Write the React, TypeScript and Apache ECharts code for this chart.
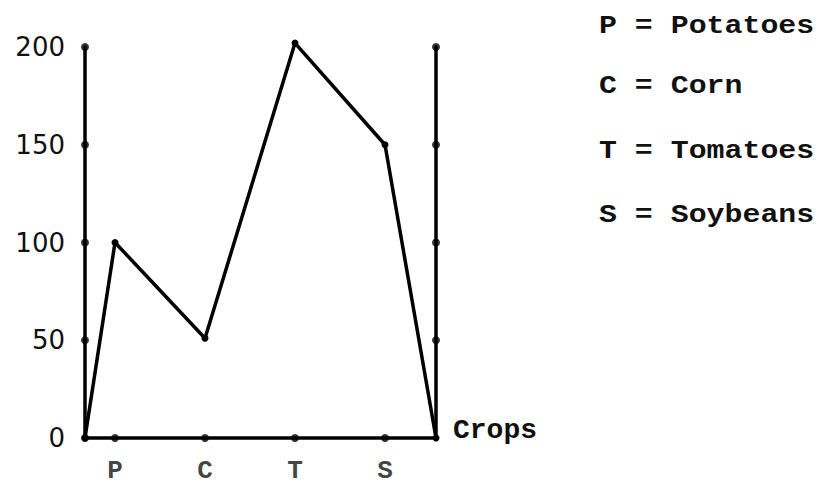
import React, { useEffect, useRef } from "react";
import * as echarts from "echarts";

const cropCodes = ["P", "C", "T", "S"];
const cropX = [1, 4, 7, 10];
const cropValues = [100, 51, 202, 150];
const xMax = 11.7;
const yTicks = [0, 50, 100, 150, 200];
const legendLines = ["P = Potatoes", "C = Corn", "T = Tomatoes", "S = Soybeans"];
const legendY = [26, 86, 151, 215];

const MONO = "'Liberation Mono', 'Courier New', monospace";

export default function App() {
  const ref = useRef<HTMLDivElement>(null);
  useEffect(() => {
    if (!ref.current) return;
    const chart = echarts.init(ref.current, null, { renderer: "svg" });
    const lineData = [[0, 0], ...cropX.map((x, i) => [x, cropValues[i]]), [xMax, 0]];
    const option: any = {
      animation: false,
      backgroundColor: "#ffffff",
      grid: { left: 85, right: 383, top: 47, bottom: 47, containLabel: false },
      xAxis: {
        type: "value",
        min: 0,
        max: xMax,
        name: "Crops",
        nameLocation: "end",
        nameGap: 17,
        nameTextStyle: {
          fontFamily: MONO,
          fontSize: 28,
          fontWeight: "bold",
          color: "#111",
          verticalAlign: "bottom",
          padding: [0, 0, -6, 0],
        },
        axisLine: { show: true, onZero: false, lineStyle: { color: "#000", width: 3.5 } },
        axisTick: { show: false },
        axisLabel: { show: false },
        splitLine: { show: false },
      },
      yAxis: [
        {
          type: "value",
          min: 0,
          max: 200,
          interval: 50,
          axisLine: { show: true, lineStyle: { color: "#000", width: 3.5 } },
          axisTick: { show: false },
          splitLine: { show: false },
          axisLabel: {
            margin: 20,
            fontFamily: "'DejaVu Sans', sans-serif",
            fontSize: 26,
            color: "#111",
          },
        },
        {
          type: "value",
          position: "right",
          min: 0,
          max: 200,
          interval: 50,
          axisLine: { show: true, lineStyle: { color: "#000", width: 3.5 } },
          axisTick: { show: false },
          splitLine: { show: false },
          axisLabel: { show: false },
        },
      ],
      series: [
        {
          type: "line",
          data: lineData,
          clip: false,
          symbol: "circle",
          symbolSize: 7,
          lineStyle: { color: "#000", width: 3.5 },
          itemStyle: { color: "#000" },
          z: 5,
        },
        {
          type: "scatter",
          data: cropX.map((x) => [x, 0]),
          symbolSize: 8,
          clip: false,
          itemStyle: { color: "#000" },
          label: {
            show: true,
            position: "bottom",
            distance: 16,
            lineHeight: 26,
            formatter: (p: any) => cropCodes[p.dataIndex],
            fontFamily: MONO,
            fontSize: 26,
            fontWeight: "bold",
            color: "#111",
          },
        },
        {
          type: "scatter",
          data: [
            ...yTicks.map((v) => [0, v]),
            ...yTicks.filter((v) => v > 0).map((v) => [xMax, v]),
          ],
          symbolSize: 8,
          clip: false,
          itemStyle: { color: "#000" },
        },
      ],
      graphic: legendLines.map((t, i) => ({
        type: "text",
        x: 599,
        y: legendY[i],
        scaleX: 1.15,
        style: {
          text: t,
          fontFamily: MONO,
          fontSize: 26,
          fontWeight: "bold",
          fill: "#111",
          verticalAlign: "middle",
        },
      })),
    };
    chart.setOption(option);
    return () => chart.dispose();
  }, []);
  return (
    <div
      ref={ref}
      style={{ position: "fixed", left: 0, top: 0, width: 819, height: 485, background: "#fff" }}
    />
  );
}
